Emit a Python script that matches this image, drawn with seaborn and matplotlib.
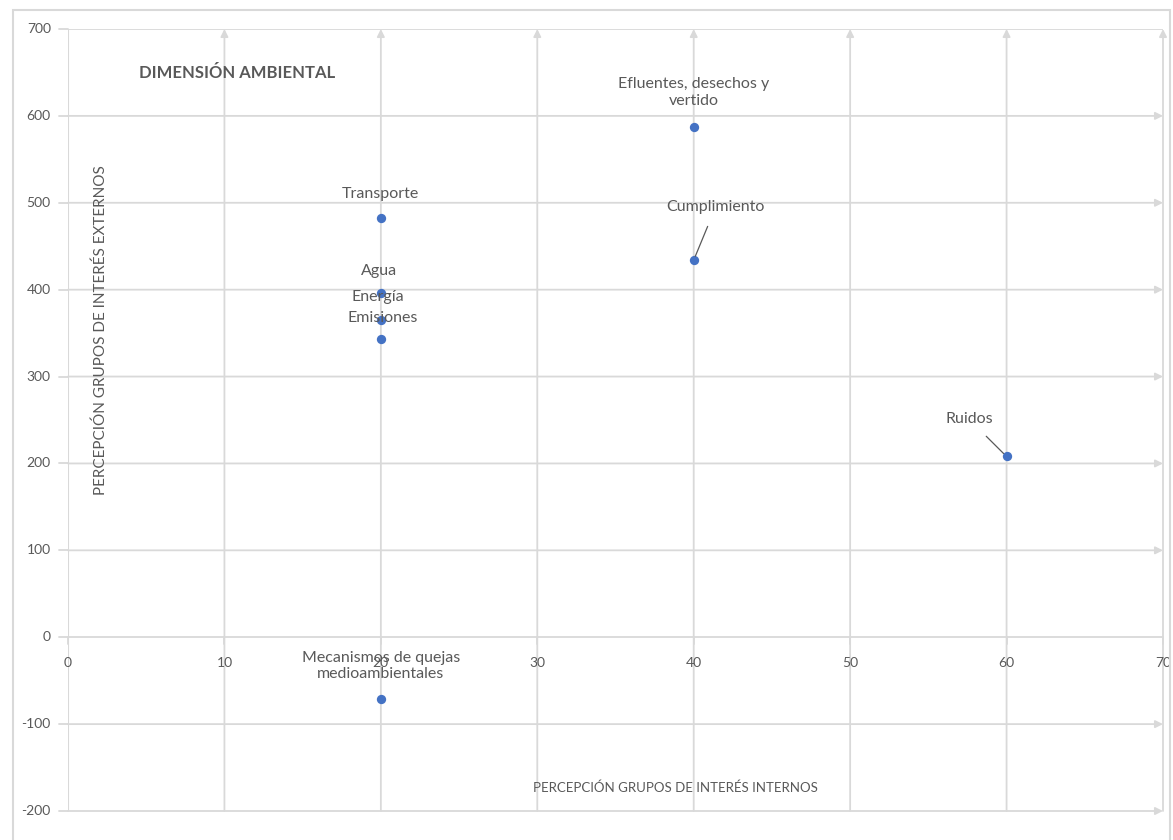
import numpy as np
import pandas as pd
import matplotlib
matplotlib.use("Agg")
import matplotlib.pyplot as plt
from matplotlib.patches import Rectangle
import seaborn as sns

# datos
temas = ["Transporte", "Agua", "Energía", "Emisiones",
         "Efluentes, desechos y\nvertido", "Cumplimiento", "Ruidos",
         "Mecanismos de quejas\nmedioambientales"]
internos = [20, 20, 20, 20, 40, 40, 60, 20]
externos = [483, 396, 365, 343, 587, 434, 208, -71]

# posicion de las etiquetas (x, y) y si llevan linea guia
etiq_x = [19.95, 19.9, 19.8, 20.1, 40.0, 41.4, 57.6, 20.0]
etiq_y = [510, 422, 391, 367, 627, 495, 251, -33]
guia = [False, False, False, False, False, True, True, False]

datos = pd.DataFrame({"internos": internos, "externos": externos, "tema": temas})

sns.set_style("white")
plt.rcParams["font.family"] = ["Lato", "DejaVu Sans"]

gris_txt = "#595959"
gris_grid = "#d9d9d9"
azul = "#4472C4"

fig = plt.figure(figsize=(11.73, 8.4), dpi=100)
ax = fig.add_axes([68 / 1173, 1 - 811 / 840, 1095 / 1173, 782 / 840])

# marco exterior del grafico
fig.add_artist(Rectangle((13 / 1173, -0.02), 1157 / 1173, 1.02 - 10 / 840,
                         transform=fig.transFigure, fill=False,
                         edgecolor=gris_grid, lw=1.5))

ax.set_xlim(0, 70)
ax.set_ylim(-200, 700)

# cuadricula con flechas
for xv in range(10, 71, 10):
    ax.annotate("", xy=(xv, 700), xytext=(xv, -200),
                arrowprops=dict(arrowstyle="-|>", color=gris_grid, lw=1.3,
                                shrinkA=0, shrinkB=0, mutation_scale=11))
for yv in range(-200, 701, 100):
    if yv in (0, 700):
        ax.plot([0, 70], [yv, yv], color=gris_grid, lw=1.3, zorder=1)
    else:
        ax.annotate("", xy=(70, yv), xytext=(0, yv),
                    arrowprops=dict(arrowstyle="-|>", color=gris_grid, lw=1.3,
                                    shrinkA=0, shrinkB=0, mutation_scale=11))
ax.plot([0, 0], [-200, 700], color=gris_grid, lw=1.5, zorder=1)

# ticks del eje y
for yv in range(-200, 701, 100):
    ax.plot([-0.6, 0], [yv, yv], color=gris_grid, lw=1.3, clip_on=False)
    ax.text(-1.1, yv, str(yv), ha="right", va="center", fontsize=10, color=gris_txt)
# ticks del eje x sobre y=0
for xv in range(0, 71, 10):
    ax.plot([xv, xv], [0, -8], color=gris_grid, lw=1.3, clip_on=False)
    ax.text(xv, -30, str(xv), ha="center", va="center", fontsize=10, color=gris_txt)

for s in ax.spines.values():
    s.set_visible(False)
ax.set_xticks([])
ax.set_yticks([])

sns.scatterplot(data=datos, x="internos", y="externos", color=azul, s=45,
                edgecolor=azul, linewidth=0, ax=ax, zorder=5)

for t, x, y, lx, ly, g in zip(temas, internos, externos, etiq_x, etiq_y, guia):
    if g:
        ax.annotate(t, xy=(x, y), xytext=(lx, ly), ha="center", va="center",
                    fontsize=11.5, color=gris_txt, linespacing=1.2,
                    arrowprops=dict(arrowstyle="-", color=gris_txt, lw=0.9,
                                    shrinkA=7, shrinkB=3), zorder=6)
    else:
        ax.text(lx, ly, t, ha="center", va="center", fontsize=11.5,
                color=gris_txt, linespacing=1.2, zorder=6)

ax.text(10.8, 649, "DIMENSIÓN AMBIENTAL", ha="center", va="center",
        fontsize=12, fontweight="bold", color=gris_txt)
ax.text(38.8, -173, "PERCEPCIÓN GRUPOS DE INTERÉS INTERNOS", ha="center",
        va="center", fontsize=9.5, color=gris_txt)
ax.text(2.1, 353, "PERCEPCIÓN GRUPOS DE INTERÉS EXTERNOS", ha="center",
        va="center", fontsize=11, color=gris_txt, rotation=90)

ax.set_xlabel("")
ax.set_ylabel("")

fig.savefig("out.png", dpi=100)
